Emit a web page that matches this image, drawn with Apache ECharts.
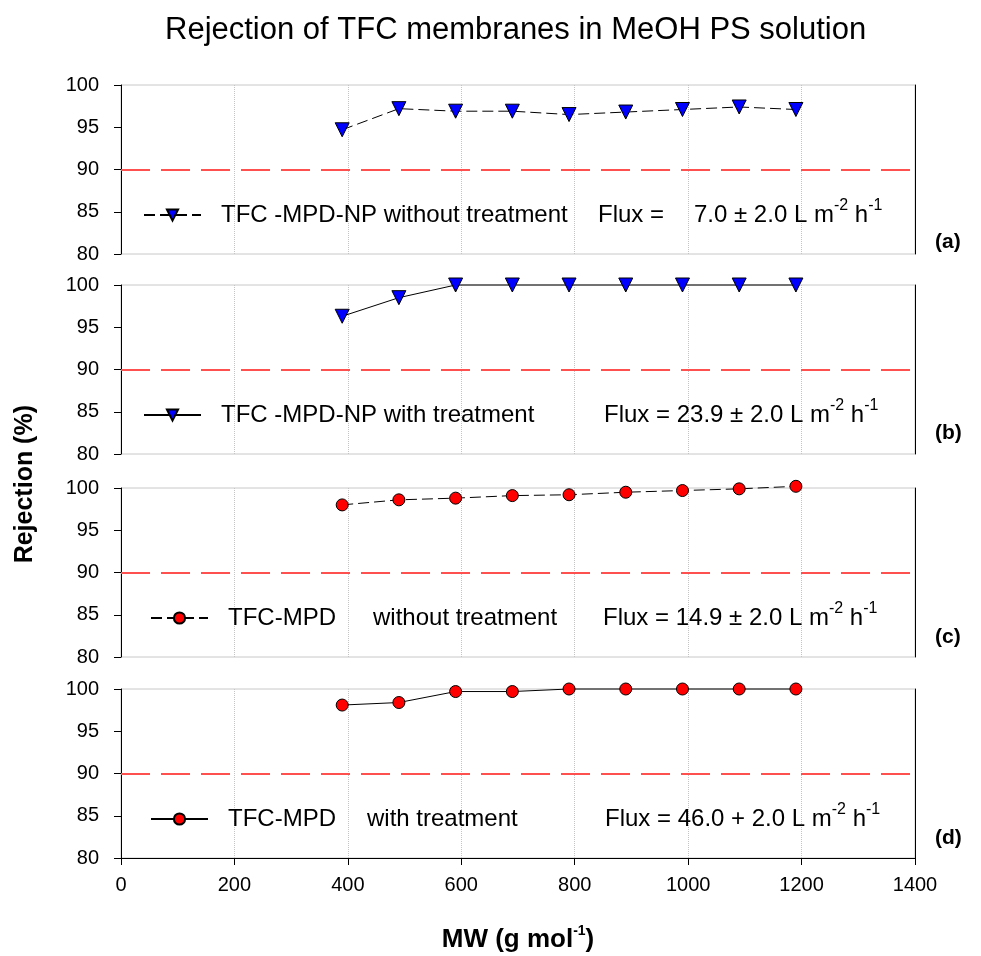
<!DOCTYPE html>
<html lang="en">
<head>
    <meta charset="UTF-8">
    <title>Rejection of TFC membranes in MeOH PS solution</title>
    <style>
        * {
            margin: 0;
        }

        body {
            background: #fff;
        }

        #main {
            width: 981px;
            height: 956px;
        }
    </style>
    <script src="https://cdn.jsdelivr.net/npm/echarts@6/dist/echarts.min.js"></script>
</head>
<body>
<div id="main"></div>
<script>
    var myChart = echarts.init(document.getElementById('main'));

    // molecular weight of the PS markers (g/mol)
    var mw = [390, 490, 590, 690, 790, 890, 990, 1090, 1190];
    // rejection (%) per membrane
    var npWithout = [94.7, 97.2, 96.9, 96.9, 96.5, 96.8, 97.1, 97.4, 97.1];
    var npWith = [96.3, 98.5, 100, 100, 100, 100, 100, 100, 100];
    var mpdWithout = [98.0, 98.6, 98.8, 99.1, 99.2, 99.5, 99.7, 99.9, 100.2];
    var mpdWith = [98.1, 98.4, 99.7, 99.7, 100, 100, 100, 100, 100];
    var xTicks = [0, 200, 400, 600, 800, 1000, 1200, 1400];
    var yTicks = [80, 85, 90, 95, 100];
    var limit = 90;

    var font = 'Liberation Sans, Arial, sans-serif';

    var panels = [
        {
            name: 'TFC -MPD-NP without treatment', data: npWithout, symbol: 'triangle', rotate: 180,
            color: '#0000ff', dashed: true, tag: '(a)', tagTop: 232, top: 85, left: 138,
            text: '{g|}{n|TFC -MPD-NP without treatment}{f|Flux =}{t|7.0 ± 2.0 L m}{s|-2}{t| h}{s|-1}',
            rich: {n: 377, f: 96}
        },
        {
            name: 'TFC -MPD-NP with treatment', data: npWith, symbol: 'triangle', rotate: 180,
            color: '#0000ff', dashed: false, tag: '(b)', tagTop: 423, top: 285, left: 138,
            text: '{g|}{n|TFC -MPD-NP with treatment}{t|Flux = 23.9 ± 2.0 L m}{s|-2}{t| h}{s|-1}',
            rich: {n: 383}
        },
        {
            name: 'TFC-MPD without treatment', data: mpdWithout, symbol: 'circle', rotate: 0,
            color: '#ff0000', dashed: true, tag: '(c)', tagTop: 627, top: 488, left: 145,
            text: '{g|}{m|TFC-MPD}{n|without treatment}{t|Flux = 14.9 ± 2.0 L m}{s|-2}{t| h}{s|-1}',
            rich: {m: 145, n: 230}
        },
        {
            name: 'TFC-MPD with treatment', data: mpdWith, symbol: 'circle', rotate: 0,
            color: '#ff0000', dashed: false, tag: '(d)', tagTop: 828, top: 689, left: 145,
            text: '{g|}{m|TFC-MPD}{n|with treatment}{t|Flux = 46.0 + 2.0 L m}{s|-2}{t| h}{s|-1}',
            rich: {m: 139, n: 238}
        }
    ];

    var grids = [], xAxes = [], yAxes = [], series = [], legends = [], tags = [];

    panels.forEach(function (p, i) {
        var last = i === panels.length - 1;
        grids.push({
            left: 121, right: 66, top: p.top, height: 169,
            outerBoundsMode: 'none',
            show: true, borderColor: '#c8c8c8', borderWidth: 1
        });
        xAxes.push({
            type: 'value', gridIndex: i, min: xTicks[0], max: xTicks[xTicks.length - 1], interval: 200,
            axisLine: {show: last, lineStyle: {color: '#000', width: 1}},
            axisTick: {show: last, length: 7, lineStyle: {color: '#000'}},
            axisLabel: {
                show: last, margin: 17, fontSize: 20, color: '#000', fontFamily: font,
                formatter: function (v) { return String(v); }
            },
            splitLine: {show: true, lineStyle: {color: '#c4c4c4', type: 'dotted', width: 1}},
            name: last ? '{b|MW (g mol}{u|-1}{b|)}' : '',
            nameLocation: 'middle', nameGap: 66,
            nameTextStyle: {
                rich: {
                    b: {fontSize: 26, fontWeight: 'bold', fontFamily: font, color: '#000', lineHeight: 32},
                    u: {fontSize: 14, fontWeight: 'bold', fontFamily: font, color: '#000', verticalAlign: 'top', lineHeight: 14}
                }
            }
        });
        yAxes.push({
            type: 'value', gridIndex: i, min: yTicks[0], max: yTicks[yTicks.length - 1], interval: 5,
            axisLine: {show: true, lineStyle: {color: '#000', width: 1}},
            axisTick: {show: true, length: 7, lineStyle: {color: '#000'}},
            axisLabel: {margin: 22, fontSize: 20, color: '#000', fontFamily: font},
            splitLine: {show: false}
        });
        // right border
        yAxes.push({
            type: 'value', gridIndex: i, position: 'right', min: yTicks[0], max: yTicks[yTicks.length - 1],
            axisLine: {show: true, lineStyle: {color: '#000', width: 1}},
            axisTick: {show: false}, axisLabel: {show: false}, splitLine: {show: false}
        });
        series.push({
            name: p.name,
            type: 'line',
            xAxisIndex: i,
            yAxisIndex: i * 2,
            data: mw.map(function (x, k) { return [x, p.data[k]]; }),
            symbol: p.symbol,
            symbolRotate: p.rotate,
            symbolSize: p.symbol === 'circle' ? 12 : 14,
            clip: false,
            itemStyle: {color: p.color, borderColor: '#000', borderWidth: 1},
            lineStyle: {color: '#000', width: 1, type: p.dashed ? [11, 5] : 'solid'},
            animation: false,
            z: 5,
            markLine: {
                silent: true,
                symbol: 'none',
                label: {show: false},
                lineStyle: {color: '#ff5050', width: 2, type: [29, 11]},
                data: [{yAxis: limit}]
            }
        });
        var rich = {
            g: {width: 15},
            t: {fontSize: 24, fontFamily: font, color: '#000', lineHeight: 34},
            s: {fontSize: 16, fontFamily: font, color: '#000', verticalAlign: 'top', lineHeight: 16}
        };
        Object.keys(p.rich).forEach(function (k) {
            rich[k] = {fontSize: 24, fontFamily: font, color: '#000', lineHeight: 34, width: p.rich[k]};
        });
        (function (text) {
            legends.push({
                data: [p.name],
                left: p.left,
                top: p.top + 108,
                itemWidth: 57,
                itemHeight: 14,
                selectedMode: false,
                formatter: function () { return text; },
                textStyle: {rich: rich}
            });
        })(p.text);
        tags.push({
            type: 'text',
            left: 935,
            top: p.tagTop,
            style: {text: p.tag, font: 'bold 21px ' + font, fill: '#000'}
        });
    });

    var option = {
        animation: false,
        backgroundColor: '#fff',
        title: {
            text: 'Rejection of TFC membranes in MeOH PS solution',
            left: 160,
            top: 10,
            textStyle: {fontSize: 31, fontWeight: 'normal', fontFamily: font, color: '#000'}
        },
        grid: grids,
        xAxis: xAxes,
        yAxis: yAxes,
        legend: legends,
        series: series,
        graphic: tags.concat([{
            type: 'text',
            left: 13,
            top: 405,
            rotation: Math.PI / 2,
            style: {text: 'Rejection (%)', font: 'bold 25px ' + font, fill: '#000'}
        }])
    };

    myChart.setOption(option);
</script>
</body>
</html>
